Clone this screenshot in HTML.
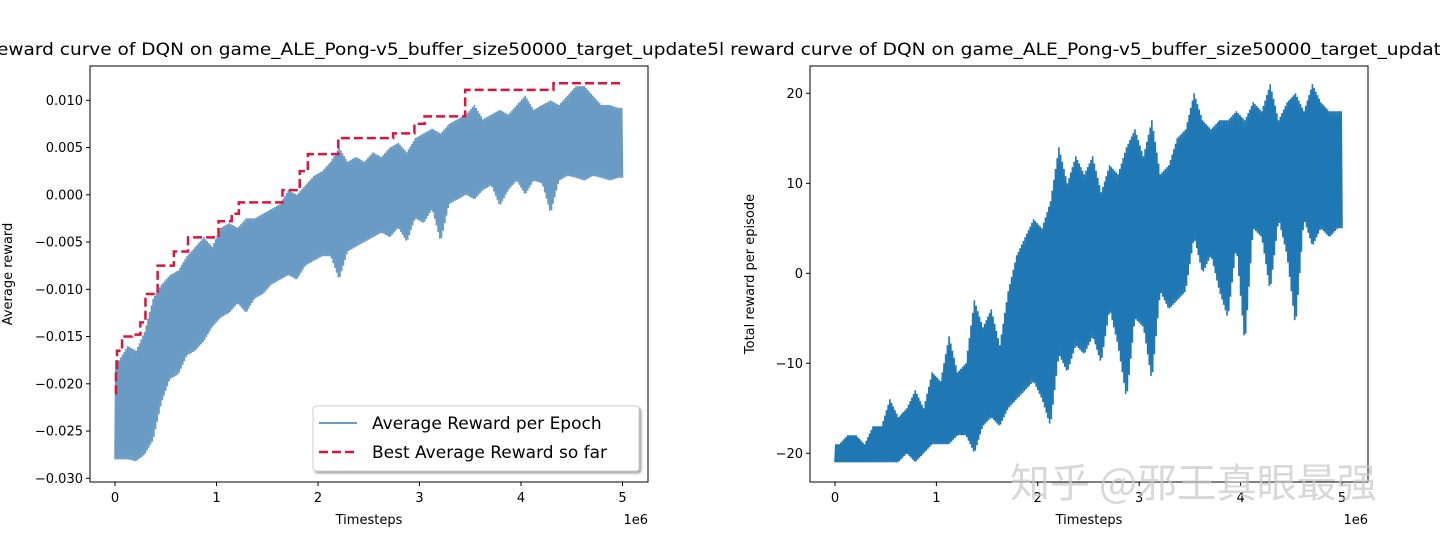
<!DOCTYPE html>
<html><head><meta charset="utf-8"><style>
html,body{margin:0;padding:0;background:#fff}
svg{display:block}
text{font-family:"DejaVu Sans","Liberation Sans",sans-serif;fill:#000}
</style></head><body>
<svg id="chart" width="1440" height="540" viewBox="0 0 1440 540" xmlns="http://www.w3.org/2000/svg">
<defs>
<clipPath id="clipL"><rect x="0" y="0" width="720" height="540"/></clipPath>
<clipPath id="clipR"><rect x="720" y="0" width="720" height="540"/></clipPath>
<clipPath id="axL"><rect x="90" y="66" width="558" height="416"/></clipPath>
<clipPath id="axR"><rect x="810" y="66" width="558" height="416"/></clipPath>
<filter id="sh" x="-5%" y="-5%" width="115%" height="130%"><feDropShadow dx="2" dy="2" stdDeviation="1" flood-color="#000" flood-opacity="0.35"/></filter>
</defs>
<g clip-path="url(#clipL)">
<text x="-3" y="55" font-size="17" textLength="722" lengthAdjust="spacingAndGlyphs">eward curve of DQN on game_ALE_Pong-v5_buffer_size50000_target_update5</text>
</g>
<g clip-path="url(#clipR)">
<text x="719" y="55" font-size="17" textLength="722" lengthAdjust="spacingAndGlyphs">l reward curve of DQN on game_ALE_Pong-v5_buffer_size50000_target_updat</text>
</g>
<g id="left"></g>
<g id="right"></g>
<text x="1010" y="497" font-size="40" style="font-family:'Noto Sans CJK SC',sans-serif;fill:rgba(200,200,200,0.7)">知乎 @邪王真眼最强</text>
</svg>
<script>
// Left chart data: per-bin low/high of Average Reward per Epoch (60 bins over 0..5e6)
const leftLows = [-0.028,-0.028,-0.0282,-0.0275,-0.026,-0.022,-0.0195,-0.019,-0.017,-0.0165,-0.0155,-0.014,-0.013,-0.0125,-0.0115,-0.0125,-0.011,-0.0105,-0.0095,-0.009,-0.0085,-0.009,-0.0075,-0.007,-0.0065,-0.0065,-0.009,-0.006,-0.0055,-0.005,-0.0045,-0.004,-0.0045,-0.0035,-0.005,-0.0025,-0.003,-0.0015,-0.005,-0.001,-0.0005,0.0,-0.0005,0.0005,0.001,-0.0012,0.0005,0.0015,0.0,0.0015,0.0012,-0.002,0.0015,0.002,0.0018,0.0015,0.002,0.0018,0.0015,0.0018];
const leftHighs = [-0.0175,-0.016,-0.0165,-0.0145,-0.011,-0.0095,-0.0085,-0.008,-0.0065,-0.0055,-0.0045,-0.0055,-0.0035,-0.003,-0.0035,-0.0025,-0.0025,-0.002,-0.0015,-0.001,0.0005,0.0,0.001,0.002,0.0025,0.0035,0.005,0.0035,0.004,0.0035,0.0045,0.004,0.005,0.0055,0.0045,0.006,0.0065,0.007,0.0065,0.0075,0.008,0.0085,0.0095,0.008,0.0085,0.009,0.0085,0.0095,0.0105,0.009,0.0095,0.01,0.0095,0.0105,0.0115,0.0115,0.0105,0.0095,0.0095,0.0092];
// Best average reward so far: step change points (timestep, value)
const bestX = [0,0.01e6,0.02e6,0.07e6,0.17e6,0.25e6,0.3e6,0.42e6,0.58e6,0.72e6,1.02e6,1.15e6,1.22e6,1.65e6,1.82e6,1.9e6,2.2e6,2.74e6,2.95e6,3.05e6,3.45e6,4.32e6,5e6];
const bestY = [-0.021,-0.0185,-0.0165,-0.015,-0.0148,-0.0135,-0.0105,-0.0075,-0.006,-0.0045,-0.0028,-0.002,-0.0008,0.0005,0.0025,0.0043,0.006,0.0065,0.0075,0.0083,0.0111,0.0118,0.0118];
const leftYTicks = [0.010,0.005,0.000,-0.005,-0.010,-0.015,-0.020,-0.025,-0.030];
const leftYLabels = ["0.010","0.005","0.000","\u22120.005","\u22120.010","\u22120.015","\u22120.020","\u22120.025","\u22120.030"];
// Right chart data: per-bin low/high of total reward per episode (60 bins)
const rightLows = [-21,-21,-21,-21,-21,-21,-21,-21,-20,-21,-20,-19,-19,-19,-18,-18,-20,-17,-16,-17,-15,-14,-13,-12,-14,-17,-9,-11,-8,-9,-7,-10,-4,-8,-14,-5,-6,-12,-2,-4,-3,-2,4,0,2,-2,-5,3,-8,5,4,-2,6,2,-6,6,3,5,4,5];
const rightHighs = [-19,-18,-18,-19,-17,-17,-14,-16,-15,-13,-15,-11,-12,-7,-11,-10,-3,-6,-4,-8,-2,2,4,6,5,8,14,10,13,11,13,9,12,11,14,16,13,17,11,12,15,16,20,17,16,17,17,18,17,19,18,21,17,19,20,18,21,19,18,18];
const rightYTicks = [20,10,0,-10,-20];
const rightYLabels = ["20","10","0","\u221210","\u221220"];
const xTicks = [0,1e6,2e6,3e6,4e6,5e6];
const xLabels = ["0","1","2","3","4","5"];

const NS="http://www.w3.org/2000/svg";
function mk(tag,attrs,parent){const e=document.createElementNS(NS,tag);for(const k in attrs)e.setAttribute(k,attrs[k]);parent.appendChild(e);return e;}

function drawAxes(g,box,xs,ys,yTicks,yLabels,ylabel,lx){
  const r=mk('rect',{x:box.x0,y:box.y0,width:box.x1-box.x0,height:box.y1-box.y0,fill:'none',stroke:'#000','stroke-width':1},g);
  
  
  xTicks.forEach((t,i)=>{
    const x=xs(t);
    const l=mk('line',{x1:x,x2:x,y1:box.y1,y2:box.y1+4,stroke:'#000'},g);
    
    
    const tx=mk('text',{x:x,y:box.y1+20,'font-size':13,'text-anchor':'middle'},g);
    
    
    tx.textContent=xLabels[i];
  });
  yTicks.forEach((t,i)=>{
    const y=ys(t);
    const l=mk('line',{x1:box.x0-4,x2:box.x0,y1:y,y2:y,stroke:'#000'},g);
    
    
    const tx=mk('text',{x:box.x0-7,y:y+4.5,'font-size':13,'text-anchor':'end'},g);
    
    
    tx.textContent=yLabels[i];
  });
  const xl=mk('text',{x:(box.x0+box.x1)/2,y:box.y1+42,'font-size':13,'text-anchor':'middle'},g);
  
  
  xl.textContent='Timesteps';
  const off=mk('text',{x:box.x1,y:box.y1+42,'font-size':13,'text-anchor':'end'},g);
  
  
  off.textContent='1e6';
  const cy=(box.y0+box.y1)/2;
  const yl=mk('text',{x:lx,y:cy,'font-size':13,'text-anchor':'middle',transform:`rotate(-90 ${lx} ${cy})`},g);
  
  
  yl.textContent=ylabel;
}

// dense zigzag between interpolated low/high envelopes (rendering only)
function bandPath(lows,highs,xs,ys,xmax){
  const n=lows.length, w=xmax/n, K=10; let pts=[];
  const interp=(arr,f)=>{const i=Math.max(0,Math.min(n-1,Math.floor(f)));const j=Math.min(n-1,i+1);const u=Math.max(0,Math.min(1,f-i));return arr[i]*(1-u)+arr[j]*u;};
  const total=n*K;
  for(let s=0;s<=total;s++){
    const t=s*w/K;
    const f=t/w-0.5;
    const v=(s%2)?interp(highs,f):interp(lows,f);
    pts.push(xs(t).toFixed(1)+','+ys(v).toFixed(1));
  }
  return 'M'+pts.join('L');
}

// LEFT
(function(){
  const g=document.getElementById('left');
  const box={x0:90,x1:648,y0:66,y1:482};
  const xs=t=>115+(t/1e6)*101.5;
  const ys=v=>194.8-(v/0.005)*47.25;
  const dg=mk('g',{'clip-path':'url(#axL)'},g);
  const p=mk('path',{d:bandPath(leftLows,leftHighs,xs,ys,5e6),fill:'none',stroke:'#6a9bc5','stroke-width':1.6},dg);
  
  
  let d='M'+xs(bestX[0])+','+ys(bestY[0]);
  for(let i=1;i<bestX.length;i++){d+='L'+xs(bestX[i])+','+ys(bestY[i-1])+'L'+xs(bestX[i])+','+ys(bestY[i]);}
  const b=mk('path',{d:d,fill:'none',stroke:'#dc143c','stroke-width':2.5,'stroke-dasharray':'9,4'},dg);
  
  
  drawAxes(g,box,xs,ys,leftYTicks,leftYLabels,'Average reward',12);
  const lg=mk('g',{},g);
  
  
  mk('rect',{x:313,y:406,width:326,height:65,rx:3,fill:'#fff',stroke:'#ccc',filter:'url(#sh)'},lg);
  const e1=mk('line',{x1:319,x2:357,y1:423,y2:423,stroke:'#6a9bc5','stroke-width':2},lg);
  
  
  const t1=mk('text',{x:372,y:429,'font-size':17},lg);
  
  
  t1.textContent='Average Reward per Epoch';
  const e2=mk('line',{x1:319,x2:357,y1:452,y2:452,stroke:'#dc143c','stroke-width':2.5,'stroke-dasharray':'9,4'},lg);
  
  
  const t2=mk('text',{x:372,y:458,'font-size':17},lg);
  
  
  t2.textContent='Best Average Reward so far';
})();

// RIGHT
(function(){
  const g=document.getElementById('right');
  const box={x0:810,x1:1368,y0:66,y1:482};
  const xs=t=>835+(t/1e6)*101.4;
  const ys=v=>273.3-(v/10)*90;
  const dg=mk('g',{'clip-path':'url(#axR)'},g);
  const p=mk('path',{d:bandPath(rightLows,rightHighs,xs,ys,5e6),fill:'none',stroke:'#1f77b4','stroke-width':1.6},dg);
  
  
  drawAxes(g,box,xs,ys,rightYTicks,rightYLabels,'Total reward per episode',754);
})();
</script>
</body></html>
